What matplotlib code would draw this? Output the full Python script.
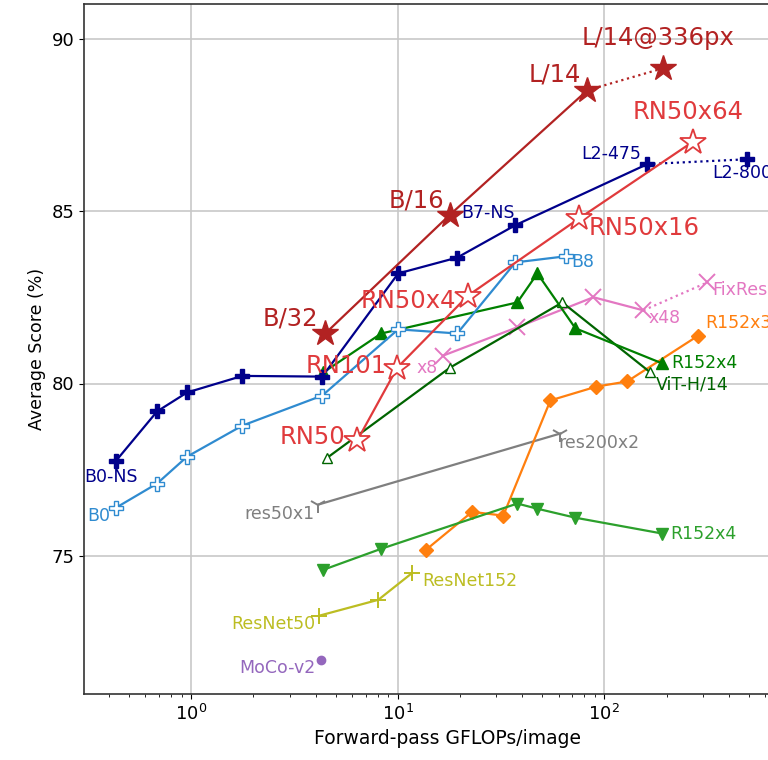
import numpy as np
import matplotlib
matplotlib.use("Agg")
import matplotlib.pyplot as plt

# GFLOPs / average score
clip_vit_x = [4.46, 17.8, 82.7]
clip_vit_y = [81.45, 84.88, 88.5]
clip_vit_336_x = [82.7, 193]
clip_vit_336_y = [88.5, 89.14]

clip_rn_x = [6.37, 9.95, 21.9, 75.7, 267]
clip_rn_y = [78.35, 80.46, 82.55, 84.79, 87.0]

effns_x = [0.433, 0.684, 0.956, 1.77, 4.31, 10.05, 19.4, 37.1, 161.5]
effns_y = [77.76, 79.19, 79.74, 80.22, 80.2, 83.19, 83.65, 84.59, 86.36]
effns_l2_x = [161.5, 492]
effns_l2_y = [86.36, 86.5]

eff_x = [0.433, 0.684, 0.956, 1.77, 4.31, 10.05, 19.4, 37.1, 65.5]
eff_y = [76.4, 77.1, 77.88, 78.78, 79.65, 81.57, 81.45, 83.51, 83.69]

bitm_x = [4.36, 8.32, 37.9, 47.4, 72.4, 191]
bitm_y = [80.32, 81.45, 82.35, 83.19, 81.6, 80.58]

bits_x = [4.36, 8.32, 37.9, 47.4, 72.4, 191]
bits_y = [74.6, 75.21, 76.52, 76.37, 76.11, 75.65]

vit_x = [4.56, 17.9, 62.6, 167]
vit_y = [77.85, 80.46, 82.35, 80.32]

ig_x = [16.6, 37.9, 88.5, 154.5]
ig_y = [80.81, 81.63, 82.5, 82.12]
fixres_x = [154.5, 315]
fixres_y = [82.12, 82.93]

simclr_x = [13.7, 22.9, 32.4, 54.8, 91.5, 129, 285]
simclr_y = [75.18, 76.28, 76.17, 79.51, 79.91, 80.06, 81.39]

byol_x = [4.12, 61.2]
byol_y = [76.49, 78.55]

resnet_x = [4.17, 8.05, 11.75]
resnet_y = [73.27, 73.73, 74.51]

moco_x = [4.27]
moco_y = [71.99]

C_VIT = "#b22222"
C_RN = "#e03a3c"
C_NS = "#00008b"
C_EFF = "#2f8bd0"

fig = plt.figure(figsize=(7.68, 7.60), dpi=100)
ax = fig.add_axes([84 / 768, 66 / 760, 727 / 768, 690 / 760])
ax.set_xscale("log")
ax.set_xlim(0.303, 1000)
ax.set_ylim(71, 91)
ax.set_yticks([75, 80, 85, 90])
ax.grid(True, which="major", color="#c8c8c8", lw=1.2)
ax.set_axisbelow(True)
for s in ax.spines.values():
    s.set_linewidth(1.2)
    s.set_color("#333333")
ax.tick_params(labelsize=13)
ax.set_xlabel("Forward-pass GFLOPs/image", fontsize=13.5)
ax.set_ylabel("Average Score (%)", fontsize=12.5)

lw = 1.6

# baselines
ax.plot(resnet_x, resnet_y, color="#bcbd22", lw=lw, marker="+", ms=12, mew=1.4)
ax.plot(moco_x, moco_y, color="#9467bd", marker="o", ms=6, ls="none")
ax.plot(byol_x, byol_y, color="#7f7f7f", lw=lw, marker="1", ms=12, mew=1.4)
ax.plot(simclr_x, simclr_y, color="#ff7f0e", lw=lw, marker="D", ms=7)
ax.plot(bits_x, bits_y, color="#2ca02c", lw=lw, marker="v", ms=8)
ax.plot(ig_x, ig_y, color="#e377c2", lw=lw, marker="x", ms=11, mew=1.4)
ax.plot(fixres_x, fixres_y, color="#e377c2", lw=lw, ls=":", marker="x", ms=11, mew=1.4, markevery=[1])
ax.plot(vit_x, vit_y, color="#006400", lw=lw, marker="^", ms=7, mfc="white")
ax.plot(bitm_x, bitm_y, color="#008000", lw=lw, marker="^", ms=8)
ax.plot(eff_x, eff_y, color=C_EFF, lw=lw, marker="P", ms=10, mfc="white")
ax.plot(effns_x, effns_y, color=C_NS, lw=lw, marker="P", ms=10)
ax.plot(effns_l2_x, effns_l2_y, color=C_NS, lw=lw, ls=":", marker="P", ms=10, markevery=[1])
ax.plot(clip_rn_x, clip_rn_y, color=C_RN, lw=lw, marker="*", ms=19, mfc="white", mew=1.3)
ax.plot(clip_vit_x, clip_vit_y, color=C_VIT, lw=lw, marker="*", ms=19)
ax.plot(clip_vit_336_x, clip_vit_336_y, color=C_VIT, lw=lw, ls=":", marker="*", ms=19, markevery=[1])


def label(txt, x, y, dx, dy, color, size=12.5, ha="center"):
    ax.annotate(txt, (x, y), xytext=(dx, dy), textcoords="offset pixels",
                ha=ha, va="center", color=color, fontsize=size)


big = 17.5
label("B/32", clip_vit_x[0], clip_vit_y[0], -35, 15, C_VIT, big)
label("B/16", clip_vit_x[1], clip_vit_y[1], -33, 15, C_VIT, big)
label("L/14", clip_vit_x[2], clip_vit_y[2], -33, 16, C_VIT, big)
label("L/14@336px", clip_vit_336_x[1], clip_vit_336_y[1], -5, 30, C_VIT, big)
label("RN50", clip_rn_x[0], clip_rn_y[0], -12, 3, C_RN, big, "right")
label("RN101", clip_rn_x[1], clip_rn_y[1], -11, 2, C_RN, big, "right")
label("RN50x4", clip_rn_x[2], clip_rn_y[2], -12, -5, C_RN, big, "right")
label("RN50x16", clip_rn_x[3], clip_rn_y[3], 9, -10, C_RN, big, "left")
label("RN50x64", clip_rn_x[4], clip_rn_y[4], -4, 30, C_RN, big)

label("B0-NS", effns_x[0], effns_y[0], -5, -16, C_NS)
label("B7-NS", effns_x[7], effns_y[7], -27, 12, C_NS)
label("L2-475", effns_l2_x[0], effns_l2_y[0], -36, 10, C_NS)
label("L2-800", effns_l2_x[1], effns_l2_y[1], -35, -14, C_NS, ha="left")
label("B0", eff_x[0], eff_y[0], -6, -8, C_EFF, ha="right")
label("B8", eff_x[-1], eff_y[-1], 5, -6, C_EFF, ha="left")

label("R152x4", bitm_x[-1], bitm_y[-1], 9, 0, "#008000", ha="left")
label("ViT-H/14", vit_x[-1], vit_y[-1], 5, -12, "#006400", ha="left")
label("R152x4", bits_x[-1], bits_y[-1], 8, 0, "#2ca02c", ha="left")
label("x8", ig_x[0], ig_y[0], -5, -12, "#e377c2", ha="right")
label("x48", ig_x[-1], ig_y[-1], 5, -8, "#e377c2", ha="left")
label("FixResNeXt", fixres_x[1], fixres_y[1], 5, -8, "#e377c2", ha="left")
label("R152x3", simclr_x[-1], simclr_y[-1], 7, 13, "#ff7f0e", ha="left")
label("res50x1", byol_x[0], byol_y[0], -4, -9, "#7f7f7f", ha="right")
label("res200x2", byol_x[1], byol_y[1], -2, -9, "#7f7f7f", ha="left")
label("ResNet50", resnet_x[0], resnet_y[0], -4, -8, "#bcbd22", ha="right")
label("ResNet152", resnet_x[-1], resnet_y[-1], 10, -8, "#bcbd22", ha="left")
label("MoCo-v2", moco_x[0], moco_y[0], -6, -8, "#9467bd", ha="right")

fig.savefig("out.png", dpi=100)
